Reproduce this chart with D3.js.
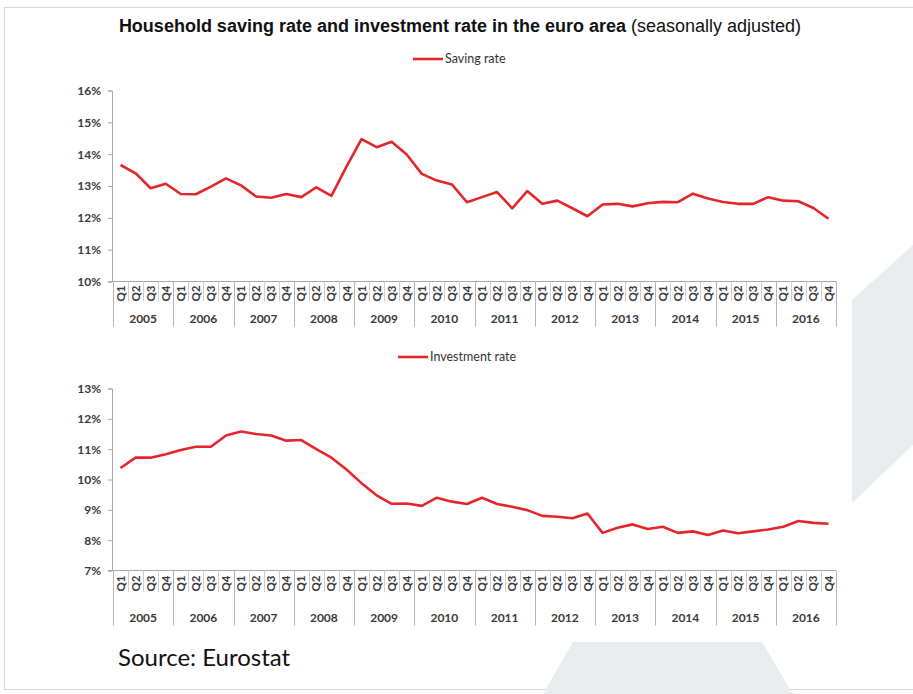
<!DOCTYPE html>
<html>
<head>
<meta charset="utf-8">
<script src="https://cdn.jsdelivr.net/npm/d3@7"></script>
<style>
  body { margin: 0; background: #fff; }
  svg { display: block; }
</style>
</head>
<body>
<div id="viz"></div>
<script>
// data, quarterly 2005 Q1 .. 2016 Q4
const years = [2005, 2006, 2007, 2008, 2009, 2010, 2011, 2012, 2013, 2014, 2015, 2016];
const quarters = ["Q1", "Q2", "Q3", "Q4"];

const savingRate = [
  13.66, 13.40, 12.93, 13.07, 12.75, 12.74, 12.98, 13.24,
  13.02, 12.67, 12.63, 12.75, 12.65, 12.96, 12.69, 13.61,
  14.47, 14.22, 14.39, 13.99, 13.38, 13.17, 13.05, 12.49,
  12.65, 12.81, 12.30, 12.84, 12.44, 12.54, 12.30, 12.05,
  12.42, 12.44, 12.36, 12.46, 12.50, 12.49, 12.76, 12.61,
  12.50, 12.44, 12.44, 12.65, 12.54, 12.52, 12.31, 11.97
];

const investmentRate = [
  10.38, 10.72, 10.72, 10.83, 10.97, 11.08, 11.08, 11.45,
  11.58, 11.50, 11.45, 11.28, 11.30, 11.00, 10.72, 10.33,
  9.88, 9.48, 9.20, 9.21, 9.13, 9.40, 9.27, 9.19,
  9.40, 9.19, 9.10, 8.99, 8.80, 8.77, 8.72, 8.88,
  8.24, 8.41, 8.52, 8.37, 8.44, 8.24, 8.29, 8.17,
  8.32, 8.23, 8.29, 8.35, 8.44, 8.63, 8.57, 8.54
];

const savingTicks = [10, 11, 12, 13, 14, 15, 16];
const investmentTicks = [7, 8, 9, 10, 11, 12, 13];

const W = 913, H = 694;
const red = "#e5252c";
const axisGrey = "#a8a8a8";
const labelGrey = "#3a3a3a";

const svg = d3.select("#viz")
    .append("svg")
    .attr("width", W)
    .attr("height", H);

// background decoration
svg.append("rect")
    .attr("x", 4.5).attr("y", 7.5)
    .attr("width", W).attr("height", 682)
    .attr("fill", "#fff")
    .attr("stroke", "#d6d6d6");

svg.append("polygon")
    .attr("points", "852,300 913,245 913,445 852,503")
    .attr("fill", "#e9edf0");
svg.append("polygon")
    .attr("points", "573,642 762,642 793,694 543,694")
    .attr("fill", "#e9edf0");

// title
const title = svg.append("text")
    .attr("x", 460)
    .attr("y", 32)
    .attr("text-anchor", "middle")
    .style("font-family", "Liberation Sans, Arial, sans-serif")
    .style("font-size", "18px")
    .attr("fill", "#111");
title.append("tspan").style("font-weight", "bold")
    .text("Household saving rate and investment rate in the euro area");
title.append("tspan").text(" (seasonally adjusted)");

// one key per quarter
const keys = [];
years.forEach(y => quarters.forEach(q => keys.push(y + q)));

function drawPanel(opt) {
    const g = svg.append("g");

    const x = d3.scaleBand()
        .domain(keys)
        .range([113, 836]);

    const y = d3.scaleLinear()
        .domain([opt.ticks[0], opt.ticks[opt.ticks.length - 1]])
        .range([opt.bottom, opt.top]);

    // y axis
    const yAxis = g.append("g")
        .attr("transform", "translate(112,0)")
        .call(d3.axisLeft(y)
            .tickValues(opt.ticks)
            .tickFormat(d => d + "%")
            .tickSize(4)
            .tickPadding(7));
    yAxis.select(".domain").attr("stroke", axisGrey);
    yAxis.selectAll(".tick line").attr("stroke", axisGrey);
    yAxis.selectAll(".tick text")
        .attr("fill", labelGrey)
        .style("font-family", "Lato, sans-serif")
        .style("font-weight", "bold")
        .style("font-size", "12px");

    // category axis line
    g.append("line")
        .attr("x1", 108).attr("x2", 836)
        .attr("y1", opt.bottom).attr("y2", opt.bottom)
        .attr("stroke", axisGrey);

    // separators between quarters and between years
    keys.forEach((k, i) => {
        const xx = Math.round(x(k)) + 0.5;
        const isYear = i % 4 === 0;
        g.append("line")
            .attr("x1", xx).attr("x2", xx)
            .attr("y1", opt.bottom)
            .attr("y2", opt.bottom + (isYear ? opt.sepLong : opt.sepShort))
            .attr("stroke", isYear ? "#b5b5b5" : "#cfcfcf");
    });
    g.append("line")
        .attr("x1", 836.5).attr("x2", 836.5)
        .attr("y1", opt.bottom).attr("y2", opt.bottom + opt.sepLong)
        .attr("stroke", "#b5b5b5");

    // quarter labels, rotated
    g.selectAll(".qlabel")
        .data(keys)
        .enter()
        .append("text")
        .attr("class", "qlabel")
        .attr("transform", d => "translate(" + (x(d) + x.bandwidth() / 2) + "," + (opt.bottom + opt.qOffset) + ") rotate(-90)")
        .attr("text-anchor", "middle")
        .attr("dy", "0.35em")
        .attr("fill", labelGrey)
        .style("font-family", "Lato, sans-serif")
        .style("font-weight", "bold")
        .style("font-size", "11.5px")
        .text(d => d.slice(4));

    // year labels
    g.selectAll(".ylabel")
        .data(years)
        .enter()
        .append("text")
        .attr("class", "ylabel")
        .attr("x", d => x(d + "Q1") + x.bandwidth() * 2)
        .attr("y", opt.bottom + opt.yearOffset)
        .attr("text-anchor", "middle")
        .attr("dy", "0.35em")
        .attr("fill", labelGrey)
        .style("font-family", "Lato, sans-serif")
        .style("font-weight", "bold")
        .style("font-size", "12px")
        .text(d => d);

    // the series
    const line = d3.line()
        .x((d, i) => x(keys[i]) + x.bandwidth() / 2)
        .y(d => y(d));

    g.append("path")
        .datum(opt.values)
        .attr("fill", "none")
        .attr("stroke", red)
        .attr("stroke-width", 2.6)
        .attr("stroke-linejoin", "round")
        .attr("d", line);

    // legend
    g.append("line")
        .attr("x1", opt.legendX).attr("x2", opt.legendX + 30)
        .attr("y1", opt.legendY).attr("y2", opt.legendY)
        .attr("stroke", red)
        .attr("stroke-width", 2.6);
    g.append("text")
        .attr("x", opt.legendX + 32)
        .attr("y", opt.legendY)
        .attr("dy", "0.35em")
        .attr("fill", "#333")
        .style("font-family", "Lato, sans-serif")
        .style("font-size", "12.5px")
        .text(opt.label);
}

drawPanel({
    values: savingRate,
    ticks: savingTicks,
    top: 90.5,
    bottom: 281.5,
    label: "Saving rate",
    legendX: 413,
    legendY: 59,
    qOffset: 12,
    yearOffset: 37,
    sepShort: 20,
    sepLong: 45
});

drawPanel({
    values: investmentRate,
    ticks: investmentTicks,
    top: 388.5,
    bottom: 570.5,
    label: "Investment rate",
    legendX: 398,
    legendY: 357,
    qOffset: 13,
    yearOffset: 47,
    sepShort: 22,
    sepLong: 55
});

// source note
svg.append("text")
    .attr("x", 118)
    .attr("y", 666)
    .attr("fill", "#111")
    .style("font-family", "Lato, sans-serif")
    .style("font-size", "24px")
    .text("Source: Eurostat");
</script>
</body>
</html>
